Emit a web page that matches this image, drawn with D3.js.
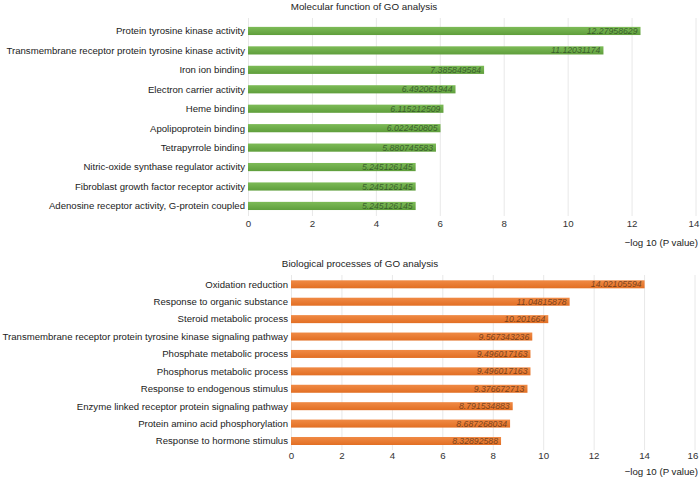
<!DOCTYPE html>
<html>
<head>
<meta charset="utf-8">
<script src="https://cdn.jsdelivr.net/npm/d3@7"></script>
<style>
  body { margin: 0; background: #fff; }
  svg { display: block; }
</style>
</head>
<body>
<div id="chart"></div>
<script>
/* Data */
var mfTerms = [
    "Protein tyrosine kinase activity",
    "Transmembrane receptor protein tyrosine kinase activity",
    "Iron ion binding",
    "Electron carrier activity",
    "Heme binding",
    "Apolipoprotein binding",
    "Tetrapyrrole binding",
    "Nitric-oxide synthase regulator activity",
    "Fibroblast growth factor receptor activity",
    "Adenosine receptor activity, G-protein coupled"
];
var mfValues = [12.27958629, 11.12031174, 7.385849584, 6.492061944, 6.115212509,
                6.022450805, 5.880745583, 5.245126145, 5.245126145, 5.245126145];
var mfTicks = [0, 2, 4, 6, 8, 10, 12, 14];

var bpTerms = [
    "Oxidation reduction",
    "Response to organic substance",
    "Steroid metabolic process",
    "Transmembrane receptor protein tyrosine kinase signaling pathway",
    "Phosphate metabolic process",
    "Phosphorus metabolic process",
    "Response to endogenous stimulus",
    "Enzyme linked receptor protein signaling pathway",
    "Protein amino acid phosphorylation",
    "Response to hormone stimulus"
];
var bpValues = [14.02105594, 11.04815878, 10.201664, 9.567343236, 9.496017163,
                9.496017163, 9.376672713, 8.791534883, 8.687268034, 8.32892588];
var bpLabels = ["14.02105594", "11.04815878", "10.201664", "9.567343236", "9.496017163",
                "9.496017163", "9.376672713", "8.791534883", "8.687268034", "8.32892588"];
var bpTicks = [0, 2, 4, 6, 8, 10, 12, 14, 16];

var fontFamily = "'Liberation Sans', Arial, Helvetica, sans-serif";

var svg = d3.select("#chart").append("svg")
    .attr("width", 700)
    .attr("height", 477);

var defs = svg.append("defs");

function gradient(id, top, bottom) {
    var g = defs.append("linearGradient")
        .attr("id", id)
        .attr("x1", 0).attr("y1", 0).attr("x2", 0).attr("y2", 1);
    g.append("stop").attr("offset", "0%").attr("stop-color", top);
    g.append("stop").attr("offset", "100%").attr("stop-color", bottom);
}
gradient("greenGrad", "#7dbb57", "#5f9e3c");
gradient("orangeGrad", "#f08a45", "#e26f24");

function drawPanel(opt) {
    var x = d3.scaleLinear().domain([0, d3.max(opt.ticks)]).range(opt.xRange);
    var y = d3.scaleBand().domain(opt.terms).range(opt.yRange).padding(opt.pad);

    var g = svg.append("g");

    /* gridlines */
    g.selectAll("line.grid")
        .data(opt.ticks)
        .enter().append("line")
        .attr("class", "grid")
        .attr("x1", function(d) { return x(d) + 0.5; })
        .attr("x2", function(d) { return x(d) + 0.5; })
        .attr("y1", opt.gridY[0])
        .attr("y2", opt.gridY[1])
        .attr("stroke", "#e8e8e8")
        .attr("stroke-width", 1);

    /* x axis tick labels */
    var axis = g.append("g")
        .attr("transform", "translate(0," + opt.axisY + ")")
        .call(d3.axisBottom(x).tickValues(opt.ticks).tickSize(0).tickPadding(0));
    axis.select(".domain").remove();
    axis.selectAll("text")
        .attr("font-family", fontFamily)
        .attr("font-size", 9.7)
        .attr("fill", "#333")
        .attr("dx", function(d, i) { return i === opt.ticks.length - 1 ? -2 : 0; });

    /* bars */
    g.selectAll("rect.bar")
        .data(opt.values)
        .enter().append("rect")
        .attr("class", "bar")
        .attr("x", x(0))
        .attr("y", function(d, i) { return y(opt.terms[i]); })
        .attr("width", function(d) { return x(d) - x(0); })
        .attr("height", y.bandwidth())
        .attr("fill", opt.fill);

    /* value labels */
    g.selectAll("text.val")
        .data(opt.values)
        .enter().append("text")
        .attr("class", "val")
        .attr("x", function(d) { return x(d) - 3; })
        .attr("y", function(d, i) { return y(opt.terms[i]) + y.bandwidth() / 2; })
        .attr("dy", "0.35em")
        .attr("text-anchor", "end")
        .attr("font-family", fontFamily)
        .attr("font-style", "italic")
        .attr("font-size", 8.7)
        .attr("fill", opt.valColor)
        .text(function(d, i) { return opt.labels ? opt.labels[i] : String(d); });

    /* category labels */
    g.selectAll("text.cat")
        .data(opt.terms)
        .enter().append("text")
        .attr("class", "cat")
        .attr("x", x(0) - 3)
        .attr("y", function(d) { return y(d) + y.bandwidth() / 2; })
        .attr("dy", "0.35em")
        .attr("text-anchor", "end")
        .attr("font-family", fontFamily)
        .attr("font-size", 9.6)
        .attr("fill", "#222")
        .text(function(d) { return d; });

    /* title */
    g.append("text")
        .attr("x", opt.titleX)
        .attr("y", opt.titleY)
        .attr("text-anchor", "middle")
        .attr("font-family", fontFamily)
        .attr("font-size", 9.8)
        .attr("fill", "#222")
        .text(opt.title);

    /* axis title */
    g.append("text")
        .attr("x", 698)
        .attr("y", opt.xTitleY)
        .attr("text-anchor", "end")
        .attr("font-family", fontFamily)
        .attr("font-size", 9.7)
        .attr("fill", "#222")
        .text("\u2212log 10 (P value)");
}

drawPanel({
    terms: mfTerms,
    values: mfValues,
    ticks: mfTicks,
    xRange: [248, 695.5],
    yRange: [15.6, 221.3],
    pad: 0.58,
    gridY: [18, 216],
    axisY: 220.5,
    fill: "url(#greenGrad)",
    valColor: "rgba(35,60,30,0.7)",
    title: "Molecular function of GO analysis",
    titleX: 364,
    titleY: 10,
    xTitleY: 246
});

drawPanel({
    terms: bpTerms,
    values: bpValues,
    labels: bpLabels,
    ticks: bpTicks,
    xRange: [291, 694.5],
    yRange: [270.9, 454.4],
    pad: 0.54,
    gridY: [275, 450],
    axisY: 452,
    fill: "url(#orangeGrad)",
    valColor: "rgba(70,40,20,0.7)",
    title: "Biological processes of GO analysis",
    titleX: 360,
    titleY: 267,
    xTitleY: 474.5
});
</script>
</body>
</html>
